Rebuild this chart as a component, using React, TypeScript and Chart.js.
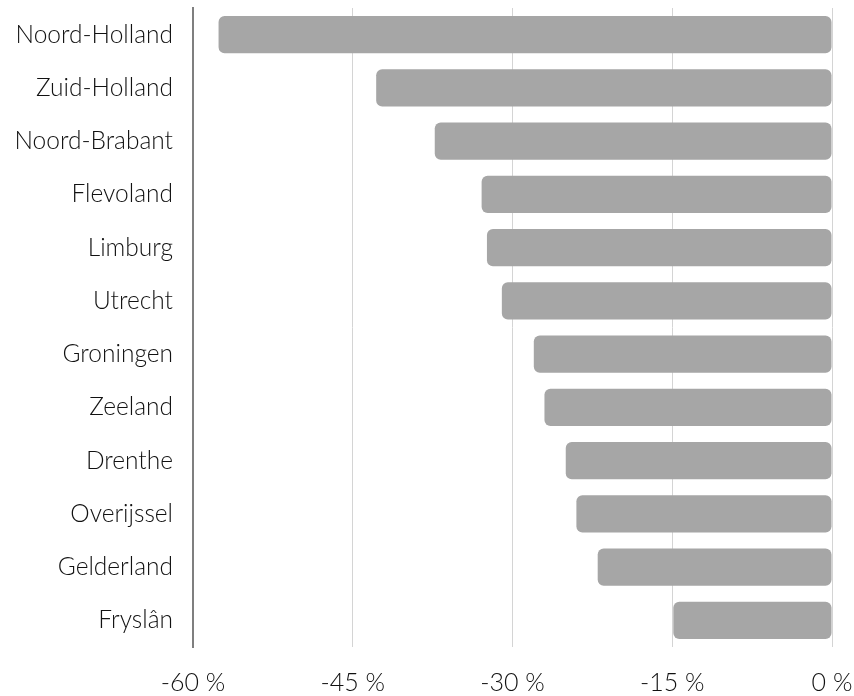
import React, { useEffect, useRef } from "react";
import { Chart, registerables } from "chart.js";

Chart.register(...registerables);

const provinces = [
  "Noord-Holland",
  "Zuid-Holland",
  "Noord-Brabant",
  "Flevoland",
  "Limburg",
  "Utrecht",
  "Groningen",
  "Zeeland",
  "Drenthe",
  "Overijssel",
  "Gelderland",
  "Fryslân",
];

const changePct = [-57.6, -42.8, -37.3, -32.9, -32.4, -31.0, -28.0, -27.0, -25.0, -24.0, -22.0, -14.9];

const xTicks = [-60, -45, -30, -15, 0];

export default function App() {
  const ref = useRef<HTMLCanvasElement>(null);

  useEffect(() => {
    document.body.style.margin = "0";
    const ctx = ref.current!;
    const chart = new Chart(ctx, {
      type: "bar",
      data: {
        labels: provinces,
        datasets: [
          {
            data: changePct,
            backgroundColor: "#a6a6a6",
            borderRadius: 6,
            borderSkipped: false,
            barPercentage: 0.7,
            categoryPercentage: 1,
          },
        ],
      },
      options: {
        indexAxis: "y",
        animation: false,
        responsive: false,
        maintainAspectRatio: false,
        layout: { padding: { top: 8, right: 22, left: 0, bottom: 0 } },
        plugins: { legend: { display: false }, tooltip: { enabled: false } },
        scales: {
          x: {
            min: -60,
            max: 0,
            afterBuildTicks: (axis: any) => {
              axis.ticks = xTicks.map((v) => ({ value: v }));
            },
            afterFit: (axis: any) => {
              axis.height = 49;
              axis.paddingLeft = 0;
              axis.paddingRight = 0;
            },
            ticks: {
              callback: (v: any) => `${v} %`,
              color: "#111111",
              font: { family: "Lato", size: 25, weight: "300" },
              padding: 21,
              maxRotation: 0,
            },
            grid: { color: "#d4d4d4", lineWidth: 1, tickLength: 0, drawTicks: false },
            border: { display: false },
          },
          y: {
            afterFit: (axis: any) => {
              axis.width = 193;
              axis.paddingTop = 0;
              axis.paddingBottom = 0;
            },
            ticks: {
              color: "#111111",
              font: { family: "Lato", size: 24.5, weight: "300" },
              padding: 20,
            },
            grid: { display: false, drawTicks: false },
            border: { display: true, color: "#7f7f7f", width: 2 },
          },
        },
      },
    });
    return () => chart.destroy();
  }, []);

  return <canvas ref={ref} width={854} height={696} style={{ display: "block" }} />;
}
